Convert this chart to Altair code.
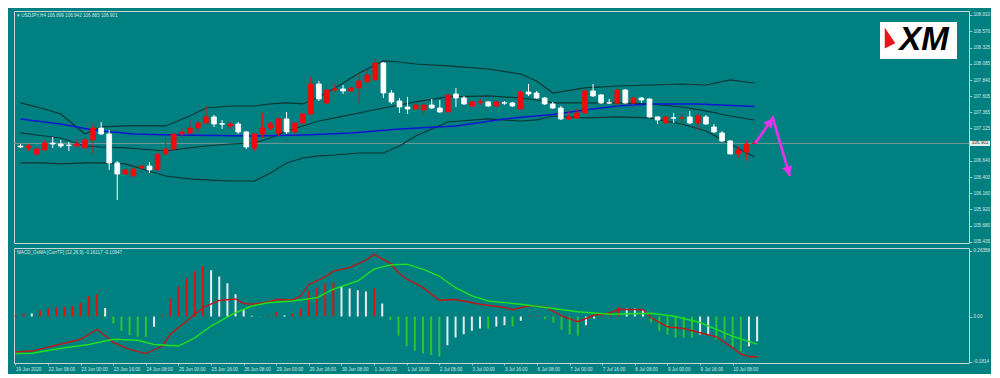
import json
import altair as alt
import pandas as pd

# ---------------- text ----------------
symbol_title = "\u25BE USDJPY,H4  106.899 106.942 106.883 106.901"
macd_title = "MACD_OsMA [CurrTF] (12,26,9) -0.16117 -0.10947"
current_price = 106.901
current_label = "106.901"
logo_text = "XM"

x_labels = ["19 Jun 2020", "22 Jun 08:00", "23 Jun 00:00", "23 Jun 16:00", "24 Jun 08:00",
            "25 Jun 00:00", "25 Jun 16:00", "26 Jun 08:00", "29 Jun 00:00", "29 Jun 16:00",
            "30 Jun 08:00", "1 Jul 00:00", "1 Jul 16:00", "2 Jul 08:00", "3 Jul 00:00",
            "3 Jul 16:00", "6 Jul 08:00", "7 Jul 00:00", "7 Jul 16:00", "8 Jul 08:00",
            "9 Jul 00:00", "9 Jul 16:00", "10 Jul 08:00"]
x_label_bars = list(range(0, 89, 4))

price_ticks = [108.810, 108.570, 108.325, 108.085, 107.840, 107.605, 107.365, 107.125,
               106.640, 106.400, 106.160, 105.920, 105.680, 105.435]
macd_ticks = [0.26358, 0.0, -0.1814]

# ---------------- candles (H4 bars) ----------------
opens = [106.862, 106.833, 106.743, 106.803, 106.907, 106.892, 106.877, 106.862, 106.833, 106.952,
         107.130, 107.041, 106.610, 106.446, 106.416, 106.535, 106.565, 106.506, 106.743, 106.818,
         107.041, 107.056, 107.130, 107.204, 107.294, 107.195, 107.160, 107.189, 107.071, 106.833,
         107.041, 107.130, 107.056, 107.264, 107.071, 107.204, 107.338, 107.784, 107.502, 107.695,
         107.710, 107.680, 107.725, 107.814, 107.844, 108.096, 107.650, 107.531, 107.442, 107.412,
         107.398, 107.472, 107.427, 107.368, 107.635, 107.576, 107.457, 107.512, 107.517, 107.457,
         107.505, 107.502, 107.412, 107.665, 107.650, 107.576, 107.487, 107.427, 107.264, 107.279,
         107.353, 107.680, 107.621, 107.505, 107.502, 107.695, 107.502, 107.576, 107.561, 107.294,
         107.204, 107.282, 107.276, 107.294, 107.204, 107.294, 107.145, 107.056, 106.937, 106.743,
         106.773, 106.899]
highs = [106.892, 106.892, 106.833, 106.952, 106.996, 106.952, 106.922, 106.952, 106.981, 107.204,
         107.219, 107.100, 106.639, 106.535, 106.550, 106.580, 106.624, 106.788, 106.981, 107.041,
         107.130, 107.249, 107.234, 107.457, 107.323, 107.249, 107.219, 107.219, 107.085, 107.056,
         107.353, 107.219, 107.279, 107.368, 107.219, 107.353, 107.888, 107.829, 107.710, 107.784,
         107.769, 107.739, 107.933, 107.992, 108.171, 108.111, 107.695, 107.576, 107.591, 107.487,
         107.502, 107.561, 107.546, 107.635, 107.725, 107.606, 107.531, 107.561, 107.531, 107.531,
         107.531, 107.517, 107.680, 107.784, 107.680, 107.591, 107.517, 107.457, 107.383, 107.412,
         107.695, 107.784, 107.636, 107.561, 107.710, 107.710, 107.590, 107.591, 107.570, 107.308,
         107.308, 107.353, 107.338, 107.383, 107.353, 107.323, 107.189, 107.085, 106.952, 106.862,
         106.937, 106.942]
lows = [106.833, 106.788, 106.728, 106.803, 106.833, 106.833, 106.788, 106.847, 106.833, 106.743,
        107.026, 106.506, 106.059, 106.431, 106.401, 106.461, 106.461, 106.446, 106.714, 106.803,
        106.981, 107.041, 107.056, 107.189, 107.145, 107.115, 107.115, 107.041, 106.818, 106.788,
        106.981, 107.100, 107.011, 107.041, 107.056, 107.189, 107.323, 107.531, 107.487, 107.665,
        107.635, 107.665, 107.502, 107.800, 107.829, 107.576, 107.487, 107.353, 107.338, 107.398,
        107.323, 107.412, 107.353, 107.353, 107.442, 107.472, 107.442, 107.472, 107.442, 107.442,
        107.472, 107.442, 107.412, 107.606, 107.561, 107.472, 107.412, 107.249, 107.249, 107.264,
        107.338, 107.591, 107.487, 107.487, 107.457, 107.487, 107.427, 107.502, 107.279, 107.189,
        107.189, 107.204, 107.189, 107.189, 107.100, 107.175, 107.056, 106.922, 106.743, 106.684,
        106.639, 106.883]
closes = [106.847, 106.862, 106.818, 106.907, 106.892, 106.862, 106.870, 106.892, 106.952, 107.130,
          107.041, 106.610, 106.446, 106.506, 106.520, 106.565, 106.506, 106.743, 106.818, 107.041,
          107.071, 107.130, 107.204, 107.294, 107.189, 107.185, 107.189, 107.071, 106.847, 107.041,
          107.130, 107.189, 107.264, 107.071, 107.204, 107.338, 107.784, 107.561, 107.695, 107.710,
          107.680, 107.725, 107.829, 107.918, 108.096, 107.650, 107.517, 107.442, 107.412, 107.472,
          107.472, 107.427, 107.368, 107.621, 107.576, 107.487, 107.517, 107.520, 107.457, 107.517,
          107.499, 107.457, 107.665, 107.635, 107.576, 107.487, 107.427, 107.264, 107.294, 107.353,
          107.680, 107.606, 107.502, 107.499, 107.695, 107.502, 107.576, 107.546, 107.294, 107.249,
          107.294, 107.276, 107.282, 107.204, 107.308, 107.189, 107.071, 106.937, 106.743, 106.803,
          106.892, 106.901]

# ---------------- Bollinger bands & moving average ----------------
band_idx = [0, 3, 5, 8, 10, 13, 18, 21, 23, 26, 29, 31, 33, 35, 37, 39, 42, 45, 47, 49, 53, 58,
            62, 64, 66, 70, 74, 78, 82, 85, 88, 91]
bb_upper = [107.502, 107.412, 107.338, 107.041, 107.145, 107.160, 107.160, 107.308, 107.427, 107.457,
            107.457, 107.487, 107.502, 107.487, 107.591, 107.725, 107.948, 108.126, 108.111, 108.081,
            108.052, 108.007, 107.933, 107.829, 107.650, 107.725, 107.754, 107.769, 107.784, 107.769,
            107.844, 107.799]
bb_mid = [107.056, 107.011, 106.981, 106.862, 106.847, 106.833, 106.788, 106.833, 106.862, 106.892,
          106.907, 106.981, 107.085, 107.160, 107.234, 107.279, 107.353, 107.427, 107.472, 107.517,
          107.591, 107.606, 107.576, 107.546, 107.502, 107.502, 107.502, 107.487, 107.442, 107.383,
          107.308, 107.249]
bb_lower = [106.610, 106.610, 106.595, 106.610, 106.610, 106.595, 106.416, 106.372, 106.357, 106.342,
            106.342, 106.461, 106.610, 106.684, 106.714, 106.728, 106.758, 106.758, 106.862, 107.011,
            107.219, 107.264, 107.234, 107.249, 107.308, 107.279, 107.294, 107.279, 107.189, 107.085,
            106.892, 106.699]

ma_idx = [0, 5, 9, 14, 19, 29, 35, 41, 47, 54, 60, 66, 70, 74, 78, 84, 91]
ma_vals = [107.264, 107.189, 107.100, 107.041, 107.026, 107.011, 107.026, 107.056, 107.115, 107.160,
           107.264, 107.331, 107.398, 107.457, 107.487, 107.487, 107.450]

# ---------------- forecast arrows ----------------
arrow_idx = [91.1, 93.3, 95.4]
arrow_price = [106.900, 107.279, 106.416]
head_idx = [92.97, 95.22]
head_price = [107.218, 106.488]
head_angle = [35, 164]

# ---------------- MACD / OsMA ----------------
hist_vals = [0.004, 0.012, 0.012, 0.025, 0.033, 0.037, 0.037, 0.042, 0.054, 0.082,
             0.089, 0.034, -0.028, -0.057, -0.075, -0.081, -0.081, -0.041, 0.005, 0.072,
             0.120, 0.153, 0.181, 0.200, 0.185, 0.160, 0.133, 0.089, 0.027, 0.003,
             -0.002, 0.004, 0.019, 0.005, 0.011, 0.032, 0.103, 0.116, 0.133, 0.136,
             0.122, 0.112, 0.105, 0.100, 0.112, 0.052, -0.013, -0.077, -0.118, -0.137,
             -0.148, -0.154, -0.160, -0.115, -0.084, -0.071, -0.057, -0.048, -0.048, -0.040,
             -0.035, -0.040, -0.017, 0.003, 0.003, -0.011, -0.024, -0.053, -0.073, -0.077,
             -0.035, -0.008, 0.005, 0.005, 0.036, 0.032, 0.032, 0.027, -0.024, -0.057,
             -0.073, -0.084, -0.085, -0.085, -0.072, -0.072, -0.091, -0.091, -0.123, -0.139,
             -0.119, -0.099]
hist_cols = ["r", "r", "w", "r", "r", "r", "r", "r", "r", "r",
             "r", "w", "g", "g", "g", "g", "g", "w", "r", "r",
             "r", "r", "r", "r", "w", "w", "w", "w", "w", "w",
             "g", "r", "r", "w", "r", "r", "r", "r", "r", "r",
             "w", "w", "w", "w", "r", "w", "g", "g", "g", "g",
             "g", "g", "g", "w", "w", "w", "w", "w", "g", "w",
             "w", "g", "w", "r", "r", "g", "g", "g", "g", "g",
             "w", "w", "r", "r", "r", "w", "w", "w", "g", "g",
             "g", "g", "g", "g", "w", "w", "g", "g", "g", "g",
             "w", "w"]

macd_idx = [0, 2, 5, 8, 10, 12, 14, 16, 18, 19, 21, 23, 25, 27, 28, 29, 31, 32, 34, 35, 36, 38, 39,
            41, 43, 44, 46, 47, 48, 50, 52, 54, 57, 60, 61, 63, 65, 67, 69, 71, 73, 74, 77, 78, 80,
            82, 84, 86, 88, 89, 90, 91]
macd_vals = [-0.142, -0.138, -0.115, -0.091, -0.051, -0.103, -0.131, -0.148, -0.118, -0.071,
             -0.018, 0.036, 0.064, 0.070, 0.052, 0.049, 0.058, 0.068, 0.066, 0.082,
             0.128, 0.158, 0.181, 0.195, 0.225, 0.248, 0.212, 0.175, 0.150, 0.115,
             0.065, 0.068, 0.049, 0.036, 0.027, 0.043, 0.038, 0.003, -0.021, 0.005,
             0.015, 0.029, 0.027, -0.005, -0.041, -0.048, -0.065, -0.081, -0.125, -0.150,
             -0.160, -0.161]
sig_idx = [0, 2, 6, 9, 12, 15, 17, 20, 22, 24, 27, 29, 31, 34, 37, 39, 42, 44, 46, 48, 50, 52, 54,
           56, 58, 62, 66, 69, 73, 78, 81, 84, 86, 88, 91]
sig_vals = [-0.148, -0.147, -0.125, -0.112, -0.091, -0.095, -0.112, -0.118, -0.085, -0.038,
            0.015, 0.042, 0.055, 0.062, 0.075, 0.109, 0.142, 0.189, 0.206, 0.209,
            0.189, 0.161, 0.115, 0.082, 0.062, 0.049, 0.032, 0.019, 0.009, 0.013,
            0.000, -0.024, -0.051, -0.079, -0.110]

# ---------------- styling ----------------
W, H1, H2 = 955, 232, 115
FONT = "Liberation Sans"
TEAL = "#008080"
LBL = "#dce8e8"
FRAME = "#c6d4d4"
UP, DOWN = "#f40a0a", "#ffffff"
BB = "#0f3535"
MA = "#1414d2"
MAG = "#ee30ee"

xs = alt.Scale(domain=[-0.184, 117.0], nice=False, zero=False)
ps = alt.Scale(domain=[105.420, 108.869], nice=False, zero=False)
ms = alt.Scale(domain=[-0.1857, 0.2736], nice=False, zero=False)

p_axis = alt.Axis(orient="right", values=price_ticks, format=".3f", labelFont=FONT,
                  labelFontSize=4.6, labelColor=LBL, tickColor=FRAME, tickSize=3, tickWidth=0.8,
                  labelPadding=1, domain=False, grid=False, title=None)
m_axis = alt.Axis(orient="right", values=macd_ticks,
                  labelExpr="datum.value == 0 ? '0.00' : (datum.value > 0 ? '0.26358' : '-0.1814')",
                  labelFont=FONT, labelFontSize=4.6, labelColor=LBL, tickColor=FRAME, tickSize=3,
                  tickWidth=0.8, labelPadding=1, domain=False, grid=False, title=None)
x_axis = alt.Axis(values=x_label_bars, labelExpr=json.dumps(x_labels) + "[round(datum.value / 4)]",
                  labelAlign="left", labelFont=FONT, labelFontSize=4.6, labelColor=LBL,
                  tickColor=FRAME, tickSize=2, tickWidth=0.8, labelPadding=1, labelFlush=False,
                  labelOverlap=False, labelBound=False, domain=False, grid=False, title=None)


def tx(f):
    return alt.X(f, type="quantitative", scale=xs, axis=None)


def ty(f):
    return alt.Y(f, type="quantitative", scale=ps, axis=p_axis)


def bx(f):
    return alt.X(f, type="quantitative", scale=xs, axis=x_axis)


def by(f):
    return alt.Y(f, type="quantitative", scale=ms, axis=m_axis)


# ---------------- frames ----------------
cdf = pd.DataFrame({"i": list(range(len(opens))), "o": opens, "h": highs, "l": lows, "c": closes})
cdf["dir"] = ["up" if c >= o else "down" for o, c in zip(opens, closes)]
bdf = pd.DataFrame({"i": band_idx, "up": bb_upper, "mid": bb_mid, "lo": bb_lower})
madf = pd.DataFrame({"i": ma_idx, "v": ma_vals})
pdf = pd.DataFrame({"p": [current_price], "t": [current_label]})
adf = pd.DataFrame({"i": arrow_idx, "p": arrow_price, "k": list(range(len(arrow_idx)))})
hddf = pd.DataFrame({"i": head_idx, "p": head_price, "a": head_angle})
tdf = pd.DataFrame({"t": [symbol_title]})
ldf = pd.DataFrame({"t": [logo_text]})

hdf = pd.DataFrame({"i": list(range(len(hist_vals))), "v": hist_vals, "k": hist_cols})
hdf["z"] = 0.0
mdf = pd.DataFrame({"i": macd_idx, "v": macd_vals})
sdf = pd.DataFrame({"i": sig_idx, "v": sig_vals})
mtdf = pd.DataFrame({"t": [macd_title]})

dir_scale = alt.Scale(domain=["up", "down"], range=[UP, DOWN])

# ---------------- price panel ----------------
price_line = alt.Chart(pdf).mark_rule(color="#7d9898", strokeWidth=1).encode(y=ty("p"))
bands = [alt.Chart(bdf).mark_line(color=BB, strokeWidth=1.2).encode(x=tx("i"), y=ty(f))
         for f in ["up", "mid", "lo"]]
ma_line = alt.Chart(madf).mark_line(color=MA, strokeWidth=1.5).encode(x=tx("i"), y=ty("v"))
wicks = alt.Chart(cdf).mark_rule(strokeWidth=1).encode(
    x=tx("i"), y=ty("l"), y2="h:Q",
    color=alt.Color("dir:N", scale=dir_scale, legend=None))
bodies = alt.Chart(cdf).mark_bar(size=4.8, strokeWidth=0.8).encode(
    x=tx("i"), y=ty("o"), y2="c:Q",
    color=alt.Color("dir:N", scale=dir_scale, legend=None),
    stroke=alt.Stroke("dir:N", scale=dir_scale, legend=None))
arrow = alt.Chart(adf).mark_line(color=MAG, strokeWidth=2.6).encode(
    x=tx("i"), y=ty("p"), order="k:Q")
heads = alt.Chart(hddf).mark_point(shape="triangle-up", filled=True, size=110, color=MAG,
                                   opacity=1).encode(
    x=tx("i"), y=ty("p"), angle=alt.Angle("a:Q", scale=None))
logo_box = alt.Chart(ldf).mark_rect(color="#ffffff").encode(
    x=alt.value(866), x2=alt.value(943), y=alt.value(11), y2=alt.value(48))
logo_red = alt.Chart(ldf).mark_point(shape="M-0.5,-1L0.5,0.5L-0.5,1Z", filled=True, size=441,
                                     color="#e8161c", opacity=1).encode(
    x=alt.value(876), y=alt.value(27))
logo_txt = alt.Chart(ldf).mark_text(font=FONT, fontSize=33, fontStyle="italic", fontWeight="bold",
                                    color="#000000", align="center", baseline="alphabetic").encode(
    x=alt.value(910), y=alt.value(39), text="t:N")
sym_txt = alt.Chart(tdf).mark_text(font=FONT, fontSize=4.6, color=LBL, align="left",
                                   baseline="middle").encode(
    x=alt.value(3), y=alt.value(4.5), text="t:N")
cur_box = alt.Chart(pdf).mark_point(shape="M-1,-0.26L1,-0.26L1,0.26L-1,0.26Z", filled=True,
                                    size=400, color="#e6eeee", opacity=1).encode(
    x=alt.value(W + 11), y=ty("p"))
cur_txt = alt.Chart(pdf).mark_text(font=FONT, fontSize=4.6, color="#0b4a4a", align="center",
                                   baseline="middle").encode(
    x=alt.value(W + 11), y=ty("p"), text="t:N")

top = alt.layer(price_line, *bands, ma_line, wicks, bodies, arrow, heads,
                logo_box, logo_red, logo_txt, sym_txt, cur_box, cur_txt).properties(width=W, height=H1)

# ---------------- MACD panel ----------------
hist = alt.Chart(hdf).mark_rule(strokeWidth=2).encode(
    x=bx("i"), y=by("v"), y2="z:Q",
    color=alt.Color("k:N", scale=alt.Scale(domain=["r", "w", "g"],
                                           range=["#dc1414", "#e8ecec", "#30c030"]), legend=None))
macd_line = alt.Chart(mdf).mark_line(color="#c21616", strokeWidth=1.4).encode(x=bx("i"), y=by("v"))
sig_line = alt.Chart(sdf).mark_line(color="#1ee01e", strokeWidth=1.4).encode(x=bx("i"), y=by("v"))
macd_txt = alt.Chart(mtdf).mark_text(font=FONT, fontSize=4.6, color=LBL, align="left",
                                     baseline="middle").encode(
    x=alt.value(3), y=alt.value(5), text="t:N")

bottom = alt.layer(hist, macd_line, sig_line, macd_txt).properties(width=W, height=H2)

chart = alt.vconcat(top, bottom, spacing=2).resolve_scale(
    x="independent", y="independent", color="independent"
).properties(
    background=TEAL, padding={"left": 4, "top": 2, "right": 0, "bottom": 2}
).configure_view(stroke=FRAME, strokeWidth=1)

chart.save("out.html", embed_options={"renderer": "svg", "actions": False})
